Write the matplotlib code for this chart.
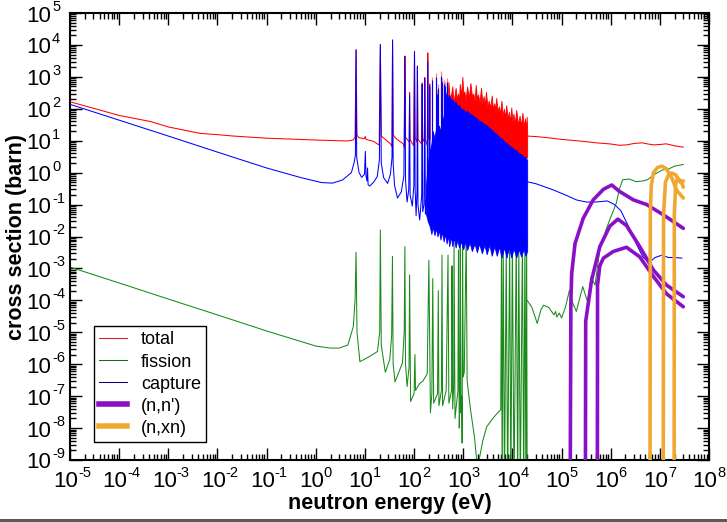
import numpy as np
import matplotlib
matplotlib.use('Agg')
import matplotlib.pyplot as plt
from matplotlib import font_manager
from matplotlib.ticker import FixedLocator, LogLocator, NullFormatter
from matplotlib.lines import Line2D
from matplotlib.patches import Rectangle
from matplotlib.transforms import blended_transform_factory, offset_copy

plt.rcParams['font.family'] = ['Liberation Sans', 'DejaVu Sans']

# ---------------- data (energy in eV, cross section in barn) ----------------
x_decades = list(range(-5, 9))
y_decades = list(range(-9, 6))
legend_labels = ['total', 'fission', 'capture', "(n,n')", '(n,xn)']

# total: smooth + resolved resonances (E, sigma)
tot_lo = [(1e-5, 166), (1e-4, 62), (4.3e-4, 40), (1e-3, 27), (4.4e-3, 17), (1e-2, 15.5),
          (2.1e-2, 14), (0.1, 12), (0.47, 11), (1, 10.5), (4.3, 9.8), (5.8, 10.5),
          (6.3, 13), (6.6, 7200), (6.9, 15), (7.5, 12.5), (9.6, 11.5), (10.2, 13.5),
          (10.5, 11), (15, 9.5), (19.5, 7.3), (20.6, 10500), (21.5, 14), (26, 11),
          (33, 8), (35.6, 6.5), (36.5, 14500), (37.5, 15), (45, 11), (60, 8), (64, 6),
          (65, 4500), (67, 13), (76, 10), (80, 9), (81, 320), (83, 11), (98, 7),
          (102, 6300), (105, 13), (114, 9), (117, 2200), (120, 11), (142, 8), (146, 650),
          (150, 12), (162, 9), (165, 950), (170, 11), (186, 7), (190, 5600), (195, 13),
          (205, 10), (208, 600), (212, 11)]
# total: dense resonance forest (E, lower, upper)
tot_forest = [(430, 8, 150), (450, 8, 300), (470, 8, 120), (500, 8, 700), (530, 8, 200),
              (560, 8, 250), (600, 8, 500), (630, 8, 180), (650, 8, 200), (700, 8, 450),
              (740, 8, 200), (780, 8, 300), (820, 8, 170), (850, 8, 600), (900, 8, 250),
              (960, 8, 1000), (1000, 7, 300), (1050, 7, 350), (1120, 7, 200), (1200, 7, 500),
              (1300, 7, 220), (1400, 7, 640), (1500, 7, 250), (1600, 7, 300), (1700, 6, 180),
              (1800, 6, 560), (1900, 6, 200), (2000, 6, 280), (2150, 6, 160), (2300, 6, 450),
              (2450, 6, 150), (2600, 6, 250), (2750, 5, 130), (2900, 5, 340), (3100, 5, 120),
              (3300, 5, 180), (3550, 5, 110), (3800, 5, 260), (4000, 5, 100), (4300, 5, 150),
              (4500, 5, 90), (4700, 5, 220), (5000, 5, 80), (5300, 4.5, 120), (5600, 4.5, 70),
              (6000, 4.5, 180), (6300, 4.5, 60), (6700, 4.5, 100), (7100, 4, 55), (7500, 4, 130),
              (8000, 4, 50), (8500, 4, 80), (9000, 4, 40), (9500, 4, 110), (1.0e4, 4, 40),
              (1.05e4, 4, 70), (1.12e4, 4, 35), (1.2e4, 3.5, 92), (1.3e4, 3.5, 32),
              (1.4e4, 3.5, 60), (1.5e4, 3.5, 30), (1.6e4, 3.5, 75), (1.7e4, 3, 28),
              (1.8e4, 3, 50), (1.9e4, 3, 25), (1.95e4, 3, 57), (2.0e4, 3, 20)]
tot_spikes = [(237, 8, 1000), (274, 8, 1300), (291, 8, 400), (311, 8, 600), (348, 8, 1500),
              (377, 8, 900), (398, 8, 500), (410, 8, 800), (434, 8, 700), (463, 8, 900)]
tot_hi = [(2e4, 14), (3e4, 13.5), (5e4, 12.5), (1e5, 11), (2e5, 10), (3.2e5, 9.3), (5e5, 8.6),
          (1e6, 7.9), (1.5e6, 7.2), (2.1e6, 7.4), (3e6, 8.2), (4.3e6, 8.6), (6e6, 7.8),
          (7.6e6, 7.4), (1e7, 7.6), (1.35e7, 8.0), (2e7, 6.9), (3e7, 6.3)]

# capture
cap_lo = [(1e-5, 138), (1e-4, 44), (1e-3, 14), (1e-2, 4.4), (0.1, 1.4), (0.48, 0.71), (1.3, 0.49),
          (2.2, 0.47), (3.5, 0.59), (5.3, 1.0), (6.0, 2.0), (6.4, 3.5), (6.6, 6900), (6.8, 3),
          (7.6, 1.0), (8.6, 0.71), (9.8, 0.9), (10.2, 4.6), (10.5, 0.8), (11.0, 0.55),
          (11.3, 1.4), (11.6, 0.42), (12.5, 0.38), (15, 0.5), (17.8, 0.75), (19.7, 2.5),
          (20.6, 10000), (21.5, 2), (24, 0.7), (29, 0.46), (33, 0.9), (35.6, 3), (36.5, 14000),
          (37.5, 2), (40, 0.4), (46, 0.16), (55, 0.25), (62, 0.8), (65, 4300), (67, 0.6),
          (72, 0.12), (78, 0.3), (81, 270), (83, 0.2), (92, 0.09), (99, 0.4), (102, 6100),
          (105, 0.3), (110, 0.045), (115, 0.3), (117, 2100), (120, 0.1), (130, 0.033),
          (143, 0.2), (146, 600), (150, 0.06), (160, 0.1), (165, 900), (170, 0.05),
          (185, 0.3), (190, 3000), (195, 0.08), (205, 0.1), (208, 500), (212, 0.05)]
cap_forest = [(175, 0.05, 0.4), (190, 0.03, 2), (210, 0.02, 5), (225, 0.012, 8),
              (240, 0.02, 20), (260, 0.011, 12), (280, 0.018, 25), (300, 0.01, 15),
              (320, 0.016, 30), (345, 0.008, 20), (370, 0.014, 40), (400, 0.007, 60),
              (430, 0.012, 120), (460, 0.006, 340), (490, 0.011, 200), (520, 0.005, 280),
              (560, 0.01, 180), (600, 0.005, 200), (650, 0.009, 150), (700, 0.0045, 170),
              (760, 0.008, 120), (820, 0.0045, 130), (900, 0.007, 100), (1000, 0.004, 95),
              (1100, 0.007, 80), (1200, 0.0038, 85), (1350, 0.0065, 70), (1500, 0.0035, 65),
              (1700, 0.006, 55), (1900, 0.0032, 50), (2100, 0.006, 42), (2400, 0.003, 38),
              (2700, 0.0055, 33), (3000, 0.0028, 30), (3400, 0.0055, 25), (3800, 0.0025, 22),
              (4300, 0.005, 18), (4800, 0.0025, 16), (5400, 0.0048, 13), (6000, 0.0022, 12),
              (6800, 0.0045, 9.5), (7600, 0.0022, 8.5), (8500, 0.0045, 7), (9500, 0.0022, 6.5),
              (1.06e4, 0.0042, 5.5), (1.2e4, 0.0022, 5), (1.35e4, 0.004, 4),
              (1.5e4, 0.0024, 3.8), (1.7e4, 0.004, 3.2), (1.85e4, 0.0025, 3),
              (2.0e4, 0.0036, 2.5)]
cap_spikes = [(237, 0.5, 800), (274, 0.5, 1000), (291, 0.5, 300), (311, 0.5, 450),
              (348, 0.5, 1100), (377, 0.5, 700), (398, 0.5, 400), (410, 0.5, 600),
              (434, 1, 500), (463, 1, 700)]
cap_hi = [(2e4, 0.52), (3e4, 0.45), (6.7e4, 0.29), (1.2e5, 0.2), (2e5, 0.14), (3.2e5, 0.12),
          (5e5, 0.12), (8.5e5, 0.13), (1.2e6, 0.1), (1.6e6, 0.065), (2.5e6, 0.016),
          (3.5e6, 0.005), (4.5e6, 0.0023), (6e6, 0.0015), (8e6, 0.0022), (1.1e7, 0.0026),
          (1.5e7, 0.0022), (2e7, 0.0022), (2.8e7, 0.0021)]

# fission
fis_lo = [(1e-5, 1.1e-3), (1e-4, 3.5e-4), (1e-3, 1.1e-4), (1e-2, 3.5e-5), (0.1, 1.1e-5),
          (1, 3.7e-6), (2, 3.2e-6), (3, 3.2e-6), (4.5, 4e-6), (5.8, 1.5e-5), (6.3, 1e-4),
          (6.6, 3.2e-3), (6.9, 1e-5), (7.9, 1.2e-6), (12, 1.7e-6), (18, 2.5e-6), (20, 1e-5),
          (20.6, 1.6e-2), (21.5, 4e-6), (26, 5.6e-7), (32, 1.4e-6), (35, 8e-6), (36.3, 2.4e-3),
          (37.5, 1e-6), (41, 2.8e-7), (58, 1.1e-6), (63, 1e-5), (65, 4.8e-3), (67, 1e-6),
          (72, 2e-7), (79, 8e-7), (81, 6.3e-4), (85, 6.8e-8), (100, 1.2e-7), (104, 2e-6),
          (107, 1.5e-7), (130, 2.5e-7), (150, 2.9e-7), (185, 5e-7), (200, 1.8e-3), (215, 3e-8),
          (230, 1.2e-7), (240, 4.8e-4), (250, 6e-8), (300, 1.2e-7), (311, 2e-4), (320, 5e-8),
          (360, 1.5e-7), (370, 2.6e-3), (380, 5e-8), (450, 1.5e-7), (490, 2.6e-3), (510, 6e-8),
          (580, 1.5e-7), (590, 1.2e-3), (610, 4e-8), (640, 2e-7), (650, 6.2e-3), (680, 2e-8),
          (780, 1.5e-7), (800, 3.8e-3), (830, 1e-8), (860, 1.5e-7), (870, 6.5e-3), (900, 3e-8),
          (930, 1e-7), (950, 3.4e-9), (970, 5e-3), (1000, 4e-7), (1050, 5.6e-7),
          (1150, 1.2e-2), (1200, 3e-7), (1400, 4e-8), (1700, 5e-9), (1900, 8e-10),
          (2100, 1e-9), (2500, 4e-9), (3000, 1.1e-8), (4000, 2e-8), (5000, 3e-8),
          (5800, 3.7e-8), (6000, 5e-3), (6200, 1e-10), (6500, 1e-2), (6900, 1e-10),
          (7500, 4e-3), (8000, 1e-10), (8800, 8e-3), (9300, 1e-10), (1.0e4, 6e-3),
          (1.08e4, 1e-10), (1.2e4, 1e-2), (1.28e4, 1e-10), (1.35e4, 5e-3), (1.45e4, 1e-10),
          (1.6e4, 1e-2), (1.7e4, 1e-10), (1.8e4, 8e-3), (1.88e4, 1e-10), (1.95e4, 1e-2),
          (2.0e4, 1e-10)]
fis_hi = [(2e4, 1e-4), (2.5e4, 6e-5), (3.2e4, 1.9e-5), (3.8e4, 5e-5), (4.3e4, 7e-5),
          (5.5e4, 6e-5), (7e4, 3.5e-5), (7.6e4, 4.5e-5), (8e4, 3e-5), (9e4, 4e-5), (1e5, 2.8e-5),
          (1.2e5, 6e-5), (1.45e5, 2.1e-4), (1.7e5, 8e-5), (2e5, 4.5e-5), (2.7e5, 2.7e-4),
          (3.4e5, 8.8e-5), (4e5, 5.6e-4), (4.8e5, 3e-4), (6e5, 3.8e-3), (8e5, 1.6e-2),
          (1.0e6, 4e-2), (1.3e6, 0.11), (1.5e6, 0.3), (1.75e6, 0.6), (2.4e6, 0.63),
          (3.3e6, 0.52), (4.5e6, 0.55), (5.6e6, 0.6), (7.6e6, 0.86), (1.1e7, 1.2),
          (1.5e7, 1.3), (2e7, 1.6), (3e7, 1.8)]

# inelastic (n,n') partial curves
nn_1 = [(1.49e5, 1e-11), (1.55e5, 1e-4), (1.61e5, 7e-4), (1.88e5, 6e-3), (2.76e5, 0.037),
        (4.4e5, 0.14), (7.1e5, 0.3), (1.05e6, 0.41), (1.5e6, 0.26), (2.9e6, 0.14),
        (5.4e6, 0.1), (1.17e7, 0.048), (3e7, 0.018)]
nn_2 = [(3.05e5, 1e-11), (3.1e5, 2.2e-5), (4.1e5, 4.4e-4), (6e5, 4.8e-3), (9.6e5, 0.021),
        (1.4e6, 0.035), (2.1e6, 0.022), (3.9e6, 4.8e-3), (7.4e6, 8.9e-4), (1.37e7, 3e-4),
        (3e7, 1.3e-4)]
nn_3 = [(5.35e5, 1e-11), (5.4e5, 3e-4), (6e5, 1.2e-3), (7.1e5, 2.1e-3), (1.13e6, 3.4e-3),
        (2.1e6, 4.6e-3), (3.9e6, 2.3e-3), (7.4e6, 5.6e-4), (1.37e7, 1.6e-4), (3e7, 6.3e-5)]
# (n,xn) curves
nx_1 = [(6.3e6, 1e-11), (6.4e6, 0.05), (6.7e6, 0.4), (7.4e6, 1.0), (9e6, 1.45), (1.1e7, 1.6),
        (1.37e7, 1.3), (1.74e7, 0.7), (2.2e7, 0.28), (3e7, 0.16)]
nx_2 = [(1.17e7, 1e-11), (1.19e7, 0.05), (1.3e7, 0.5), (1.5e7, 0.85), (1.74e7, 0.97),
        (2.1e7, 0.85), (2.6e7, 0.5), (3e7, 0.55)]
nx_3 = [(1.95e7, 1e-11), (1.97e7, 0.05), (2.1e7, 0.45), (2.3e7, 0.66), (2.7e7, 0.55),
        (3e7, 0.35)]

# ---------------- styles ----------------
C_TOT = '#ff0000'
C_FIS = '#1a8a1a'
C_CAP = '#0000ff'
C_NN = '#8a10c8'
C_NX = '#f0a830'
LW_THIN = 0.75
LW_THICK = 2.6

_names = {f.name for f in font_manager.fontManager.ttflist}
if 'Liberation Sans Narrow' in _names:
    TICK_FONT, BASE_SIZE = 'Liberation Sans Narrow', 18
else:
    TICK_FONT, BASE_SIZE = 'Liberation Sans', 16
EXP_SIZE = 10.5


def xy(pairs):
    a = np.array(pairs, dtype=float)
    return a[:, 0], a[:, 1]


fig = plt.figure(figsize=(7.27, 5.22), dpi=100)
ax = fig.add_axes([70 / 727, 1 - 460 / 522, (709 - 70) / 727, (460 - 13) / 522])
ax.set_xscale('log')
ax.set_yscale('log')

# fission (bottom layer)
for seg in (fis_lo, fis_hi):
    e, s = xy(seg)
    ax.plot(e, s, color=C_FIS, lw=LW_THIN, zorder=2)

# total
for seg in (tot_lo, tot_hi):
    e, s = xy(seg)
    ax.plot(e, s, color=C_TOT, lw=LW_THIN, zorder=3)
tf = np.array(tot_forest, dtype=float)
ax.fill_between(tf[:, 0], tf[:, 1], tf[:, 2], facecolor=C_TOT, edgecolor=C_TOT, lw=0.6, zorder=3)
ts = np.array(tot_spikes, dtype=float)
ax.vlines(ts[:, 0], ts[:, 1], ts[:, 2], colors='#ff8080', lw=0.9, zorder=3)

# capture
for seg in (cap_lo, cap_hi):
    e, s = xy(seg)
    ax.plot(e, s, color=C_CAP, lw=LW_THIN, zorder=4)
cf = np.array(cap_forest, dtype=float)
ax.fill_between(cf[:, 0], cf[:, 1], cf[:, 2], facecolor=C_CAP, edgecolor=C_CAP, lw=0.6, zorder=4)
cs = np.array(cap_spikes, dtype=float)
ax.vlines(cs[:, 0], cs[:, 1], cs[:, 2], colors=C_CAP, lw=0.8, zorder=4)

# (n,n') and (n,xn)
for seg in (nn_1, nn_2, nn_3):
    e, s = xy(seg)
    ax.plot(e, s, color=C_NN, lw=LW_THICK, solid_capstyle='round', zorder=5)
for seg in (nx_1, nx_2, nx_3):
    e, s = xy(seg)
    ax.plot(e, s, color=C_NX, lw=LW_THICK, solid_capstyle='round', zorder=6)

ax.set_xlim(10.0 ** x_decades[0], 10.0 ** x_decades[-1])
ax.set_ylim(10.0 ** y_decades[0], 10.0 ** y_decades[-1])

ax.xaxis.set_major_locator(FixedLocator([10.0 ** k for k in x_decades]))
ax.yaxis.set_major_locator(FixedLocator([10.0 ** k for k in y_decades]))
ax.xaxis.set_major_formatter(NullFormatter())
ax.yaxis.set_major_formatter(NullFormatter())
ax.xaxis.set_minor_locator(LogLocator(base=10, subs=np.arange(2, 10), numticks=200))
ax.yaxis.set_minor_locator(LogLocator(base=10, subs=np.arange(2, 10), numticks=200))
ax.xaxis.set_minor_formatter(NullFormatter())
ax.yaxis.set_minor_formatter(NullFormatter())
ax.tick_params(which='both', direction='in', top=True, right=True, width=1.0)
ax.tick_params(which='major', length=8.5)
ax.tick_params(which='minor', length=4)
for sp in ax.spines.values():
    sp.set_linewidth(1.5)

# decade tick labels: "10" with a small superscript exponent
tx = blended_transform_factory(ax.transData, ax.transAxes)
ty = blended_transform_factory(ax.transAxes, ax.transData)
for k in x_decades:
    v = 10.0 ** k
    ax.text(v, 0, '10', transform=offset_copy(tx, fig, x=-4, y=-11, units='dots'),
            ha='center', va='top', fontsize=BASE_SIZE, family=TICK_FONT, clip_on=False)
    ax.text(v, 0, str(k), transform=offset_copy(tx, fig, x=8, y=-6, units='dots'),
            ha='left', va='top', fontsize=EXP_SIZE, family=TICK_FONT, clip_on=False)
for k in y_decades:
    v = 10.0 ** k
    ax.text(0, v, '10', transform=offset_copy(ty, fig, x=-19, y=-3, units='dots'),
            ha='right', va='center', fontsize=BASE_SIZE, family=TICK_FONT, clip_on=False)
    ax.text(0, v, str(k), transform=offset_copy(ty, fig, x=-18, y=-1, units='dots'),
            ha='left', va='bottom', fontsize=EXP_SIZE, family=TICK_FONT, clip_on=False)

ax.set_xlabel('neutron energy (eV)', fontsize=15.5, fontweight='bold')
ax.xaxis.set_label_coords(0.5, -0.074)
ax.set_ylabel('cross section (barn)', fontsize=15.5, fontweight='bold')
ax.yaxis.set_label_coords(-0.068, 0.5)

handles = [Line2D([], [], color='#d02020', lw=LW_THIN),
           Line2D([], [], color='#107010', lw=LW_THIN),
           Line2D([], [], color='#000080', lw=LW_THIN),
           Line2D([], [], color=C_NN, lw=4),
           Line2D([], [], color=C_NX, lw=4)]
leg = ax.legend(handles, legend_labels, loc='lower left', bbox_to_anchor=(0.0376, 0.040),
                borderaxespad=0, fontsize=13, frameon=True, fancybox=False,
                edgecolor='black', framealpha=1, handlelength=1.55, handletextpad=0.75,
                labelspacing=0.28, borderpad=0.3)
leg.get_frame().set_linewidth(1.0)
leg.set_zorder(10)

fig.patches.append(Rectangle((0, 0), 1, 3.5 / 522, transform=fig.transFigure,
                             facecolor='#5a5a5a', edgecolor='none'))

fig.savefig('out.png', dpi=100)
